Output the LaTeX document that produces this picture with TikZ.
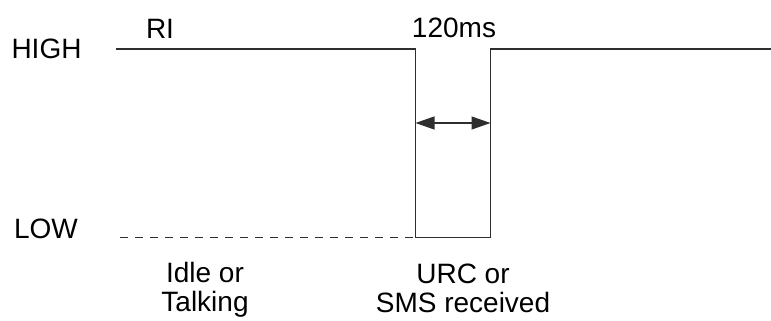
\documentclass[tikz,border=0pt]{standalone}
\usepackage{fontspec}
\setmainfont{Liberation Sans}
\usepackage{tikz}
\usetikzlibrary{arrows.meta, positioning, calc}
\definecolor{riline}{HTML}{2E2E2E}

\tikzset{
  lbl/.style={font=\fontsize{14}{14.5}\selectfont, inner sep=0pt, align=center},
  wave/.style={draw=riline, line width=0.7pt},
  dim/.style={{Triangle[length=9.5pt, width=6.5pt]}-{Triangle[length=9.5pt, width=6.5pt]}, draw=riline, line width=0.6pt}
}

\begin{document}
\begin{tikzpicture}[x=0.5pt, y=-0.5pt]
  \useasboundingbox (0,0) rectangle (771,321);
  % level names
  \node[lbl] (hightxt) at (46.5,49) {HIGH};
  \node[lbl] (lowtxt) at (46,229) {LOW};
  % waveform corners
  \coordinate (w0) at (116,49);
  \coordinate (w1) at (415.5,49);
  \coordinate (w2) at (415.5,237.5);
  \coordinate (w3) at (490.5,237.5);
  \coordinate (w4) at (490.5,49);
  \coordinate (w5) at (771,49);
  \coordinate (d0) at (120,237.5);
  \draw[wave] (w0) -- (w1) -- (w2) -- (w3) -- (w4) -- (w5);
  \draw[wave, dash pattern=on 4pt off 3.5pt] (d0) -- (w2);
  % pulse width
  \coordinate (a0) at (415.5,123);
  \coordinate (a1) at (490.5,123);
  \draw[dim] (a0) -- (a1);
  \node[lbl] (ri) at (160,28.5) {RI};
  \node[lbl] (dur) at (454,27.5) {120ms};
  % states
  \node[lbl] (idle) at (205,290) {Idle or\\Talking};
  \node[lbl] (urc) at (463,288) {URC or\\SMS received};
\end{tikzpicture}
\end{document}
